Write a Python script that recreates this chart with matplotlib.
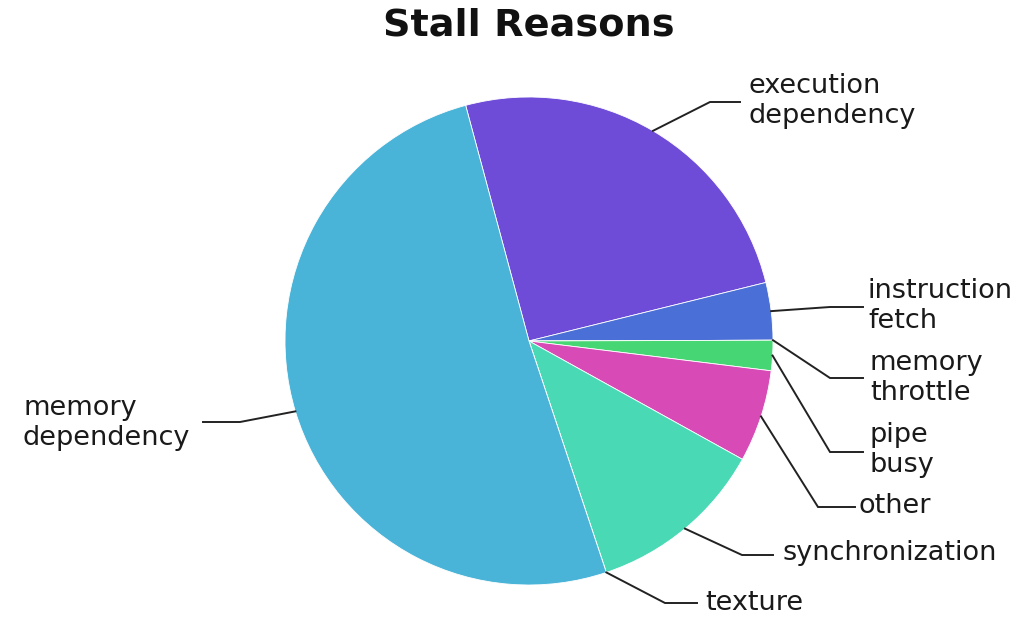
import matplotlib
matplotlib.use('Agg')
import matplotlib.pyplot as plt
import numpy as np

title = "Stall Reasons"
categories = ["execution\ndependency", "instruction\nfetch", "memory\nthrottle",
              "pipe\nbusy", "other", "synchronization", "texture", "memory\ndependency"]
values = [25.3, 3.8, 0.0, 2.0, 6.1, 11.8, 0.0, 50.9]
colors = ["#6e4cd8", "#4a6fd6", "#4ad96a", "#46d673", "#d84ab5", "#4ad9b5", "#4ad9d9", "#4ab3d8"]

# layout: label text anchor (left x, center y) and elbow point, in pixel coords
label_pos = [(748, 101), (868, 306), (870, 378), (870, 450), (858, 506), (783, 553), (705, 603), (23, 423)]
elbow_pos = [(710, 102), (830, 307), (830, 378), (830, 452), (818, 507), (742, 555), (665, 603), (240, 422)]
end_pos = [(740, 102), (863, 307), (863, 378), (863, 452), (855, 507), (773, 555), (697, 603), (203, 422)]

W, H = 1036, 633
fig = plt.figure(figsize=(W / 100, H / 100), dpi=100)
ax = fig.add_axes([0, 0, 1, 1])

cx, cy, R = 529, 341, 244
wedges, _ = ax.pie(values, colors=colors, startangle=254.95, counterclock=True,
                   radius=R, center=(cx, cy), normalize=True,
                   wedgeprops=dict(edgecolor='white', linewidth=0.6))
ax.set_xlim(0, W)
ax.set_ylim(H, 0)
ax.set_aspect('equal')
ax.axis('off')

for w, lab, lp, ep, en in zip(wedges, categories, label_pos, elbow_pos, end_pos):
    mid = np.deg2rad((w.theta1 + w.theta2) / 2)
    ax_x = cx + R * np.cos(mid)
    ax_y = cy + R * np.sin(mid)
    ax.plot([ax_x, ep[0], en[0]], [ax_y, ep[1], en[1]], color='#222222', lw=1.4,
            solid_joinstyle='miter')
    ax.text(lp[0], lp[1], lab, ha='left', va='center', fontsize=19.5,
            color='#1a1a1a', linespacing=1.22, family='DejaVu Sans')

ax.text(529, 25, title, ha='center', va='center', fontsize=27.5, fontweight='bold',
        color='#111111', family='DejaVu Sans')

fig.savefig('out.png', dpi=100)
